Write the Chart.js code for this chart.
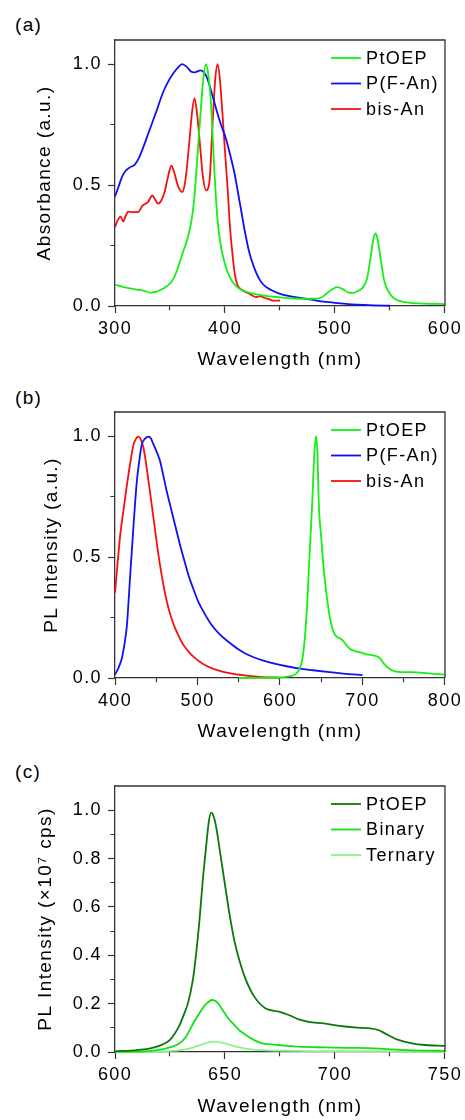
<!DOCTYPE html>
<html>
<head>
<meta charset="utf-8">
<script src="https://cdn.jsdelivr.net/npm/chart.js@4.4.0/dist/chart.umd.min.js"></script>
<style>
    body { margin: 0; background: #fff; width: 465px; height: 1120px; position: relative; overflow: hidden;
           font-family: "Liberation Sans", Arial, sans-serif; }
    canvas { position: absolute; left: 0; }
    .tag { position: absolute; left: 15px; font-size: 19px; letter-spacing: 1.3px; line-height: 1; color: #000; }
</style>
</head>
<body>
<div class="tag" style="top:15px">(a)</div>
<div class="tag" style="top:388px">(b)</div>
<div class="tag" style="top:762px">(c)</div>
<canvas id="chart-abs" width="465" height="372" style="top:0"></canvas>
<canvas id="chart-pl" width="465" height="372" style="top:372px"></canvas>
<canvas id="chart-blend" width="465" height="376" style="top:744px"></canvas>
<script>
// (a) absorbance
const absPtWl = [300, 310, 320, 327, 332, 337, 342, 346, 350, 354, 358, 362, 366, 369.3, 372, 374, 376.5, 378.3, 380.5, 382.8, 385, 387.4, 389, 390.4, 392, 393.4, 395.5, 397.9, 402, 406.9, 412, 416, 422, 430, 440, 450, 460, 470, 480, 487, 492, 497, 502, 507, 512, 516, 520, 525, 529, 532, 535, 537, 539, 542, 545, 550, 555, 565, 580, 600];
const absPt = [0.088, 0.076, 0.068, 0.062, 0.055, 0.058, 0.068, 0.078, 0.093, 0.12, 0.17, 0.225, 0.28, 0.347, 0.44, 0.56, 0.72, 0.83, 0.95, 1.0, 0.95, 0.83, 0.68, 0.554, 0.43, 0.347, 0.27, 0.21, 0.145, 0.099, 0.075, 0.064, 0.055, 0.047, 0.04, 0.036, 0.032, 0.03, 0.03, 0.034, 0.05, 0.068, 0.078, 0.07, 0.056, 0.054, 0.06, 0.075, 0.11, 0.19, 0.28, 0.3, 0.27, 0.18, 0.1, 0.05, 0.028, 0.015, 0.01, 0.008];

const absPfWl = [300, 303, 306, 309, 313, 318, 322, 326, 330, 334, 338, 343.7, 348, 352.7, 357, 361, 365, 369, 372, 378, 381, 384, 388, 392, 396, 401, 405, 408.4, 411, 414.5, 418, 422, 426, 432, 437, 442, 450, 460, 470, 480, 490, 500, 510, 520, 535, 550];
const absPf = [0.453, 0.49, 0.53, 0.555, 0.572, 0.585, 0.615, 0.66, 0.71, 0.76, 0.81, 0.884, 0.925, 0.96, 0.985, 1.0, 0.99, 0.97, 0.966, 0.974, 0.965, 0.94, 0.88, 0.815, 0.755, 0.69, 0.62, 0.554, 0.49, 0.4, 0.31, 0.223, 0.165, 0.105, 0.08, 0.066, 0.05, 0.04, 0.032, 0.025, 0.018, 0.013, 0.009, 0.006, 0.003, 0.001];

const absBisWl = [300, 302.5, 305, 307.5, 309.5, 312, 316, 321, 325, 330, 334, 336.5, 339.2, 342, 345, 348, 351.2, 354, 357, 361.2, 364, 367.8, 370, 372.3, 374.5, 376.8, 379.8, 382.8, 385.8, 388.8, 391, 393.3, 395.5, 397.8, 400, 402.4, 404.5, 406.9, 409, 411.4, 416, 422, 428, 432, 436, 440, 444, 450];
const absBis = [0.326, 0.355, 0.37, 0.35, 0.37, 0.39, 0.388, 0.388, 0.415, 0.43, 0.457, 0.44, 0.423, 0.435, 0.47, 0.53, 0.58, 0.55, 0.5, 0.471, 0.52, 0.69, 0.8, 0.86, 0.8, 0.69, 0.54, 0.478, 0.512, 0.76, 0.93, 1.0, 0.93, 0.788, 0.64, 0.485, 0.33, 0.21, 0.13, 0.086, 0.065, 0.051, 0.037, 0.041, 0.033, 0.028, 0.022, 0.023];

// (b) photoluminescence
const plPtWl = [550, 600, 612, 619, 624, 627, 630, 633, 636, 639, 641.5, 643.7, 645.5, 647, 650, 653, 657, 661, 665, 668.3, 675, 680, 685, 690, 697, 705, 715, 721, 727, 735, 743, 760, 780, 800];
const plPt = [0, 0.002, 0.008, 0.016, 0.04, 0.076, 0.16, 0.31, 0.52, 0.72, 0.92, 1.0, 0.92, 0.724, 0.58, 0.45, 0.33, 0.24, 0.19, 0.172, 0.159, 0.138, 0.12, 0.112, 0.106, 0.098, 0.092, 0.082, 0.055, 0.033, 0.025, 0.024, 0.019, 0.014];

const plPfWl = [400, 404, 408.4, 411.5, 414.5, 416.5, 418.5, 420.5, 422.5, 424.5, 426.5, 429.5, 432.5, 436.5, 440.6, 443.6, 446.6, 450.6, 454.6, 458.7, 462.7, 466.7, 470.7, 474.7, 478.7, 483.7, 488.8, 494.8, 500.8, 508.8, 516.9, 527, 537, 549, 561, 580, 600, 620, 640, 660, 680, 700];
const plPf = [0.014, 0.04, 0.083, 0.14, 0.22, 0.32, 0.43, 0.53, 0.634, 0.73, 0.814, 0.9, 0.966, 0.99, 0.998, 0.99, 0.966, 0.935, 0.897, 0.835, 0.772, 0.717, 0.662, 0.607, 0.552, 0.49, 0.428, 0.37, 0.317, 0.265, 0.22, 0.18, 0.151, 0.12, 0.096, 0.072, 0.054, 0.041, 0.032, 0.024, 0.017, 0.012];

const plBisWl = [400, 403, 406.4, 410.5, 414.5, 418.5, 422.5, 425.5, 428.5, 431.5, 434.5, 437.5, 440.6, 443.6, 446.6, 449.6, 452.6, 455.6, 458.6, 461.6, 464.7, 468.7, 472.7, 477.7, 482.7, 489.7, 496.7, 506.8, 516.9, 527, 537, 547, 557, 575, 600];
const plBis = [0.352, 0.47, 0.593, 0.7, 0.8, 0.89, 0.966, 0.99, 0.998, 0.985, 0.952, 0.89, 0.814, 0.74, 0.662, 0.585, 0.51, 0.445, 0.386, 0.335, 0.29, 0.245, 0.207, 0.17, 0.138, 0.107, 0.083, 0.058, 0.041, 0.029, 0.021, 0.015, 0.011, 0.005, 0.001];

// (c) blend films, x10^7 cps
const blPtWl = [600, 610, 615, 620, 625, 629.4, 631.5, 633.1, 635.4, 636.9, 638.4, 639.9, 641.4, 642.6, 643.7, 645, 646.2, 647.4, 649.7, 652, 654.2, 656.5, 659.5, 663.3, 668.5, 674.5, 679, 683.6, 688, 695, 702, 710, 716, 720, 722.7, 728.8, 735, 741, 750];
const blPt = [0.003, 0.008, 0.013, 0.025, 0.05, 0.112, 0.16, 0.2, 0.298, 0.408, 0.545, 0.71, 0.848, 0.95, 0.99, 0.97, 0.92, 0.848, 0.71, 0.573, 0.463, 0.38, 0.298, 0.229, 0.18, 0.167, 0.153, 0.135, 0.125, 0.118, 0.108, 0.101, 0.098, 0.09, 0.077, 0.05, 0.036, 0.029, 0.025];

const blBinWl = [600, 615, 622, 626, 629.4, 632, 633.9, 636, 638.4, 641, 644.4, 646.5, 648.9, 651, 653.5, 656.5, 659.5, 663, 667, 674.5, 683.6, 695, 705, 715, 722, 730, 740, 750];
const blBin = [0.001, 0.004, 0.012, 0.022, 0.036, 0.06, 0.09, 0.125, 0.16, 0.195, 0.215, 0.205, 0.174, 0.145, 0.119, 0.09, 0.07, 0.05, 0.036, 0.029, 0.022, 0.019, 0.017, 0.016, 0.013, 0.009, 0.006, 0.005];

const blTerWl = [600, 620, 630, 635, 640, 644.4, 648, 652, 656, 660, 667, 680, 700, 716, 730, 750];
const blTer = [0, 0.002, 0.008, 0.017, 0.033, 0.043, 0.04, 0.03, 0.02, 0.013, 0.008, 0.005, 0.004, 0.004, 0.002, 0.001];

const FAMILY = '"Liberation Sans", Arial, sans-serif';
const FONT = { family: FAMILY, size: 18 };
const TITLE_FONT = { family: FAMILY, size: 19 };
const AXIS = '#333';

function pts(xs, ys) {
    return xs.map((x, i) => ({ x: x, y: ys[i] }));
}

function isMajor(v, major) {
    const r = v / major;
    return Math.abs(r - Math.round(r)) < 1e-6;
}

function series(label, xs, ys, color) {
    return {
        label: label,
        data: pts(xs, ys),
        borderColor: color,
        backgroundColor: color,
        borderWidth: 1.8,
        pointRadius: 0,
        cubicInterpolationMode: 'monotone',
        clip: 4
    };
}

// letter spacing + frame + legend drawn inside the plot
const spacingPlugin = {
    id: 'spacing',
    beforeDraw(chart) { chart.ctx.letterSpacing = '1.4px'; }
};

const framePlugin = {
    id: 'frame',
    afterDraw(chart) {
        const { ctx, chartArea: a } = chart;
        ctx.save();
        ctx.strokeStyle = AXIS;
        ctx.lineWidth = 1.3;
        ctx.beginPath();
        ctx.moveTo(a.left, a.top);
        ctx.lineTo(a.right, a.top);
        ctx.lineTo(a.right, a.bottom);
        ctx.stroke();
        ctx.restore();
    }
};

const legendPlugin = {
    id: 'insideLegend',
    afterDatasetsDraw(chart) {
        const { ctx, chartArea: a } = chart;
        ctx.save();
        ctx.font = FONT.size + 'px ' + FAMILY;
        ctx.textBaseline = 'middle';
        ctx.textAlign = 'left';
        chart.data.datasets.forEach((ds, i) => {
            const y = a.top + 18 + i * 25.5;
            ctx.strokeStyle = ds.borderColor;
            ctx.lineWidth = 1.8;
            ctx.beginPath();
            ctx.moveTo(a.right - 114, y);
            ctx.lineTo(a.right - 84, y);
            ctx.stroke();
            ctx.fillStyle = '#000';
            ctx.fillText(ds.label, a.right - 79, y + 1);
        });
        ctx.restore();
    }
};

function xScale(min, max, step, major, height, titlePad) {
    return {
        type: 'linear',
        min: min,
        max: max,
        afterFit: s => { s.height = height; },
        ticks: {
            stepSize: step,
            autoSkip: false,
            maxRotation: 0,
            color: '#000',
            font: FONT,
            padding: 5,
            callback: v => isMajor(v, major) ? String(v) : ''
        },
        grid: {
            drawOnChartArea: false,
            tickLength: 7,
            tickColor: AXIS,
            tickWidth: 1.2,
            // bottom ticks are stroked from the axis outwards
            tickBorderDash: c => isMajor(c.tick.value, major) ? [] : [4, 20]
        },
        border: { color: AXIS, width: 1.3 },
        title: { display: true, text: 'Wavelength (nm)', color: '#000', font: TITLE_FONT, padding: { top: 0, bottom: titlePad } }
    };
}

function yScale(title, step, major, titlePad) {
    return {
        min: 0,
        max: 1.1,
        afterFit: s => { s.width = 115; },
        afterBuildTicks: s => { s.ticks = s.ticks.filter(t => t.value <= 1.0001); },
        ticks: {
            stepSize: step,
            autoSkip: false,
            color: '#000',
            font: FONT,
            padding: 6,
            callback: v => isMajor(v, major) ? v.toFixed(1) : ''
        },
        grid: {
            drawOnChartArea: false,
            tickLength: 7,
            tickColor: AXIS,
            tickWidth: 1.2,
            // left ticks are stroked from the outer end towards the axis
            tickBorderDash: c => isMajor(c.tick.value, major) ? [] : [0, 2.4, 4, 20]
        },
        border: { color: AXIS, width: 1.3 },
        title: { display: true, text: title, color: '#000', font: TITLE_FONT, padding: { top: titlePad, bottom: 0 } }
    };
}

function makeChart(id, datasets, x, y, padTop) {
    new Chart(document.getElementById(id), {
        type: 'line',
        data: { datasets: datasets },
        options: {
            responsive: false,
            animation: false,
            devicePixelRatio: 1,
            events: [],
            parsing: false,
            layout: { padding: { top: padTop, right: 18, left: 0, bottom: 0 } },
            plugins: { legend: { display: false }, tooltip: { enabled: false } },
            scales: { x: x, y: y }
        },
        plugins: [spacingPlugin, framePlugin, legendPlugin]
    });
}

makeChart('chart-abs', [
    series('PtOEP', absPtWl, absPt, '#14f014'),
    series('P(F-An)', absPfWl, absPf, '#1010f5'),
    series('bis-An', absBisWl, absBis, '#f51010')
], xScale(300, 600, 50, 100, 66, 0.8), yScale('Absorbance (a.u.)', 0.25, 0.5, 33), 40);

makeChart('chart-pl', [
    series('PtOEP', plPtWl, plPt, '#14f014'),
    series('P(F-An)', plPfWl, plPf, '#1010f5'),
    series('bis-An', plBisWl, plBis, '#f51010')
], xScale(400, 800, 50, 100, 66, 1.0), yScale('PL Intensity (a.u.)', 0.25, 0.5, 40), 40);

makeChart('chart-blend', [
    series('PtOEP', blPtWl, blPt, '#0b780b'),
    series('Binary', blBinWl, blBin, '#14e014'),
    series('Ternary', blTerWl, blTer, '#8cf08c')
], xScale(600, 750, 25, 50, 68, 2.0), yScale('PL Intensity (\u00d710\u2077 cps)', 0.1, 0.2, 34), 42);
</script>
</body>
</html>
